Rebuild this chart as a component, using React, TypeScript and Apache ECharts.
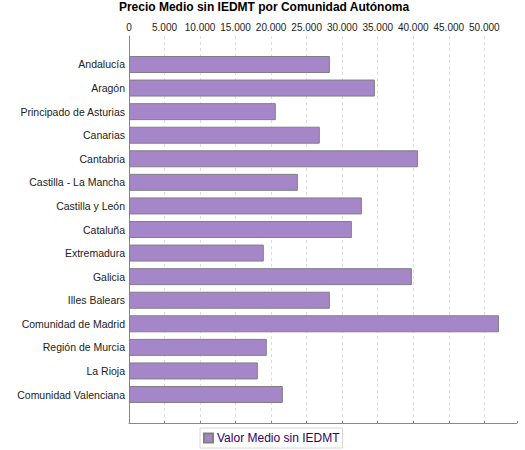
import React, { useEffect, useRef } from "react";
import * as echarts from "echarts";

const categories = [
  "Andalucía",
  "Aragón",
  "Principado de Asturias",
  "Canarias",
  "Cantabria",
  "Castilla - La Mancha",
  "Castilla y León",
  "Cataluña",
  "Extremadura",
  "Galicia",
  "Illes Balears",
  "Comunidad de Madrid",
  "Región de Murcia",
  "La Rioja",
  "Comunidad Valenciana",
];

const valorMedio = [
  28270, 34600, 20660, 26850, 40660, 23760, 32770, 31360, 18970, 39810, 28270,
  52070, 19390, 18130, 21650,
];

const seriesName = "Valor Medio sin IEDMT";
const title = "Precio Medio sin IEDMT por Comunidad Autónoma";
const axisMax = 54600;
const axisInterval = 5000;

function fmt(v: number): string {
  const s = Math.round(v).toString();
  return s.replace(/\B(?=(\d{3})+(?!\d))/g, ".");
}

export default function App() {
  const ref = useRef<HTMLDivElement>(null);
  useEffect(() => {
    document.body.style.margin = "0";
    if (!ref.current) return;
    const chart = echarts.init(ref.current, null, { renderer: "svg" });
    const font = "Liberation Sans, Arial, sans-serif";
    chart.setOption({
      animation: false,
      backgroundColor: "#ffffff",
      title: {
        text: title,
        left: 264,
        textAlign: "center",
        top: 1,
        padding: 0,
        textStyle: {
          fontFamily: font,
          fontSize: 12,
          fontWeight: "bold",
          color: "#000000",
        },
      },
      legend: {
        left: 200,
        top: 428,
        data: [seriesName],
        icon: "rect",
        itemWidth: 9,
        itemHeight: 9,
        itemGap: 4,
        padding: [4, 3, 4, 3],
        borderColor: "#d8d8d8",
        borderWidth: 1,
        textStyle: {
          fontFamily: font,
          fontSize: 12,
          color: "#330066",
          padding: [0, 0, 0, -1],
        },
      },
      grid: [
        { left: 129, top: 36, width: 388, height: 387, containLabel: false },
        { left: 129, top: 52.7, width: 388, height: 353.6, containLabel: false },
      ],
      xAxis: [
        {
          type: "value",
          gridIndex: 0,
          position: "top",
          min: 0,
          max: axisMax,
          interval: axisInterval,
          axisLine: { show: true, lineStyle: { color: "#888888", width: 1 } },
          axisTick: { show: true, length: 2, lineStyle: { color: "#888888" } },
          axisLabel: {
            fontFamily: font,
            fontSize: 10,
            color: "#222222",
            margin: 4,
            formatter: (v: number) => (v % axisInterval === 0 ? fmt(v) : ""),
          },
          splitLine: {
            show: true,
            showMaxLine: false,
            lineStyle: { color: "#dddddd", type: [3, 3], width: 1 },
          },
        },
        {
          type: "value",
          gridIndex: 1,
          min: 0,
          max: axisMax,
          show: false,
        },
      ],
      yAxis: [
        {
          type: "value",
          gridIndex: 0,
          axisLine: { show: true, lineStyle: { color: "#888888", width: 1 } },
          axisTick: { show: false },
          axisLabel: { show: false },
          splitLine: { show: false },
        },
        {
          type: "category",
          gridIndex: 1,
          inverse: true,
          data: categories,
          axisLine: { show: false },
          axisTick: { show: false },
          axisLabel: {
            fontFamily: font,
            fontSize: 10.5,
            color: "#222222",
            margin: 4,
          },
        },
      ],
      series: [
        {
          name: seriesName,
          type: "bar",
          xAxisIndex: 1,
          yAxisIndex: 1,
          data: valorMedio,
          barWidth: 17,
          itemStyle: {
            color: "#a586c9",
            borderColor: "#808080",
            borderWidth: 1,
          },
        },
      ],
    });
    return () => chart.dispose();
  }, []);
  return <div ref={ref} style={{ width: 525, height: 450 }} />;
}
